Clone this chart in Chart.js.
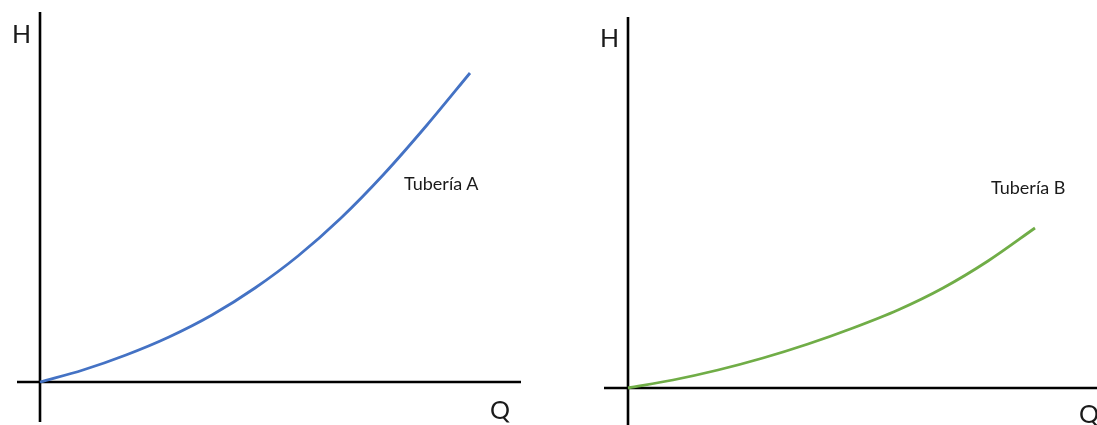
<!DOCTYPE html>
<html>
<head>
<meta charset="utf-8">
<script src="https://cdn.jsdelivr.net/npm/chart.js@4"></script>
<style>
  html, body { margin: 0; padding: 0; background: #ffffff; }
  body { width: 1097px; height: 425px; position: relative; overflow: hidden; font-family: Lato, "Open Sans", sans-serif; color: #1a1a1a; }
  .box { position: absolute; }
  .lbl { position: absolute; white-space: nowrap; line-height: 1; }
  .ax { font-size: 25px; }
  .tb { font-size: 18px; }
</style>
</head>
<body>
<div class="box" id="boxA" style="left:17px; top:12px; width:504px; height:410px;"><canvas id="chartA"></canvas></div>
<div class="box" id="boxB" style="left:604px; top:17px; width:493px; height:408px;"><canvas id="chartB"></canvas></div>

<span class="lbl ax" style="left:12px; top:21px;">H</span>
<span class="lbl ax" style="left:490px; top:397px;">Q</span>
<span class="lbl tb" style="left:404px; top:174px;">Tubería A</span>

<span class="lbl ax" style="left:600px; top:25px;">H</span>
<span class="lbl ax" style="left:1079px; top:401px;">Q</span>
<span class="lbl tb" style="left:991px; top:178px;">Tubería B</span>

<script>
// ---- data (arbitrary units) ----
const qA = [0, 43, 86, 129, 172, 215, 258, 301, 344, 387, 430];
const hA = [0, 12, 27, 45, 67, 94, 126, 164, 208, 257, 309];
const qB = [0, 45, 90, 135, 180, 225, 270, 315, 360, 407];
const hB = [0, 8, 18, 30, 44, 60, 78, 100, 127, 160];

// axis extents (where the drawn axes start/stop)
const rangeA = { qMin: -23, qMax: 481, hMin: -40, hMax: 370 };
const rangeB = { qMin: -24, qMax: 469, hMin: -37, hMax: 371 };

const colorA = '#4472C4';
const colorB = '#70AD47';

const crossAxes = {
  id: 'crossAxes',
  beforeDatasetsDraw(chart) {
    const { ctx, chartArea: a, scales: { x, y } } = chart;
    const x0 = x.getPixelForValue(0);
    const y0 = y.getPixelForValue(0);
    ctx.save();
    ctx.strokeStyle = '#000000';
    ctx.lineWidth = 2.6;
    ctx.beginPath();
    ctx.moveTo(x0, a.top);
    ctx.lineTo(x0, a.bottom);
    ctx.moveTo(a.left, y0);
    ctx.lineTo(a.right, y0);
    ctx.stroke();
    ctx.restore();
  }
};

function makeChart(id, qs, hs, range, color) {
  return new Chart(document.getElementById(id), {
    type: 'line',
    data: {
      datasets: [{
        data: qs.map((q, i) => ({ x: q, y: hs[i] })),
        borderColor: color,
        borderWidth: 2.8,
        pointRadius: 0,
        fill: false,
        cubicInterpolationMode: 'monotone',
        clip: false
      }]
    },
    options: {
      responsive: true,
      maintainAspectRatio: false,
      animation: false,
      layout: { padding: 0 },
      plugins: { legend: { display: false }, tooltip: { enabled: false }, title: { display: false } },
      scales: {
        x: { type: 'linear', display: false, min: range.qMin, max: range.qMax },
        y: { type: 'linear', display: false, min: range.hMin, max: range.hMax }
      }
    },
    plugins: [crossAxes]
  });
}

makeChart('chartA', qA, hA, rangeA, colorA);
makeChart('chartB', qB, hB, rangeB, colorB);
</script>
</body>
</html>
